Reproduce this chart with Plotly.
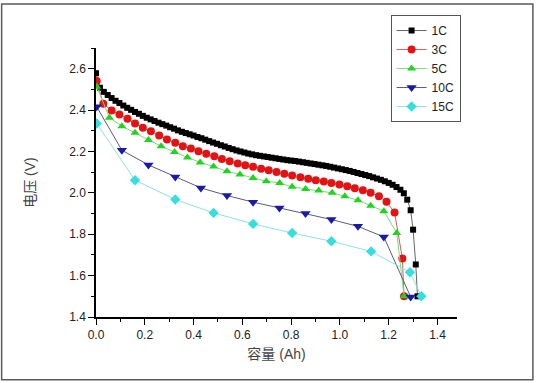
import plotly.graph_objects as go

# ---- data ----
x_1c = [0.000, 0.016, 0.032, 0.048, 0.064, 0.080, 0.096, 0.112, 0.128, 0.144,
        0.160, 0.176, 0.192, 0.208, 0.224, 0.240, 0.256, 0.272, 0.288, 0.304,
        0.320, 0.336, 0.352, 0.368, 0.384, 0.400, 0.416, 0.432, 0.448, 0.464,
        0.480, 0.496, 0.512, 0.528, 0.544, 0.560, 0.576, 0.592, 0.608, 0.624,
        0.640, 0.656, 0.672, 0.688, 0.704, 0.720, 0.736, 0.752, 0.768, 0.784,
        0.800, 0.816, 0.832, 0.848, 0.864, 0.880, 0.896, 0.912, 0.928, 0.944,
        0.960, 0.976, 0.992, 1.008, 1.024, 1.040, 1.056, 1.072, 1.088, 1.104,
        1.120, 1.136, 1.152, 1.168, 1.184, 1.200, 1.216, 1.232, 1.248, 1.262,
        1.276, 1.290, 1.300, 1.311, 1.318]
v_1c = [2.578, 2.508, 2.488, 2.473, 2.458, 2.445, 2.434, 2.422, 2.411, 2.401,
        2.391, 2.382, 2.372, 2.363, 2.355, 2.347, 2.339, 2.332, 2.325, 2.317,
        2.310, 2.302, 2.295, 2.289, 2.283, 2.277, 2.270, 2.264, 2.257, 2.250,
        2.243, 2.237, 2.230, 2.224, 2.217, 2.211, 2.205, 2.200, 2.195, 2.190,
        2.186, 2.182, 2.179, 2.176, 2.173, 2.170, 2.167, 2.164, 2.161, 2.158,
        2.156, 2.154, 2.151, 2.148, 2.145, 2.142, 2.139, 2.136, 2.133, 2.130,
        2.126, 2.122, 2.118, 2.114, 2.110, 2.106, 2.101, 2.096, 2.091, 2.086,
        2.081, 2.075, 2.069, 2.063, 2.056, 2.048, 2.039, 2.028, 2.015, 1.998,
        1.967, 1.916, 1.822, 1.654, 1.500]

x_3c = [0.003, 0.030, 0.064, 0.096, 0.129, 0.160, 0.192, 0.225, 0.259, 0.291,
        0.325, 0.356, 0.389, 0.420, 0.452, 0.485, 0.516, 0.548, 0.581, 0.612,
        0.644, 0.677, 0.708, 0.740, 0.772, 0.804, 0.838, 0.870, 0.901, 0.934,
        0.965, 0.998, 1.030, 1.061, 1.094, 1.126, 1.160, 1.191, 1.224, 1.256,
        1.263]
v_3c = [2.540, 2.430, 2.398, 2.379, 2.358, 2.335, 2.314, 2.298, 2.277, 2.258,
        2.242, 2.225, 2.214, 2.201, 2.189, 2.177, 2.164, 2.153, 2.142, 2.133,
        2.126, 2.116, 2.109, 2.101, 2.092, 2.084, 2.075, 2.068, 2.061, 2.055,
        2.048, 2.040, 2.032, 2.022, 2.012, 2.000, 1.983, 1.957, 1.905, 1.683,
        1.500]

x_5c = [0.003, 0.055, 0.106, 0.160, 0.215, 0.267, 0.322, 0.375, 0.427, 0.482,
        0.537, 0.590, 0.644, 0.698, 0.753, 0.804, 0.859, 0.913, 0.968, 1.020,
        1.074, 1.126, 1.180, 1.233, 1.263]
v_5c = [2.513, 2.363, 2.322, 2.290, 2.255, 2.225, 2.197, 2.171, 2.147, 2.127,
        2.104, 2.089, 2.072, 2.056, 2.048, 2.029, 2.019, 2.011, 2.000, 1.983,
        1.964, 1.938, 1.911, 1.806, 1.500]

x_10c = [0.003, 0.106, 0.215, 0.325, 0.430, 0.537, 0.644, 0.752, 0.859, 0.965,
         1.074, 1.180, 1.290]
v_10c = [2.416, 2.206, 2.135, 2.077, 2.024, 1.987, 1.955, 1.927, 1.900, 1.871,
         1.838, 1.787, 1.497]

x_15c = [0.003, 0.160, 0.325, 0.482, 0.644, 0.804, 0.965, 1.128, 1.287, 1.334]
v_15c = [2.335, 2.061, 1.968, 1.903, 1.850, 1.806, 1.766, 1.717, 1.616, 1.500]

names = ["1C", "3C", "5C", "10C", "15C"]
xs = [x_1c, x_3c, x_5c, x_10c, x_15c]
vs = [v_1c, v_3c, v_5c, v_10c, v_15c]
marker_colors = ["#000000", "#e41313", "#22d322", "#1a1aa6", "#38dede"]
line_colors = ["#666666", "#c86464", "#7ddc7d", "#5a5a80", "#8ee2e2"]
symbols = ["square", "circle", "triangle-up", "triangle-down", "diamond"]
sizes = [6, 8, 8, 9, 8]

fig = go.Figure()
for n, x, v, mc, lc, s, sz in zip(names, xs, vs, marker_colors, line_colors, symbols, sizes):
    fig.add_trace(go.Scatter(
        x=x, y=v, name=n, mode="lines+markers",
        line=dict(color=lc, width=1),
        marker=dict(color=mc, symbol=s, size=sz, line=dict(width=0)),
    ))

W, H = 539, 383
L, R, T, B = 96, 81.5, 48, 65.7
pw = W - L - R
ph = H - T - B

def px(xp):
    return (xp - L) / pw

def py(yp):
    return (H - B - yp) / ph

fig.add_shape(type="rect", xref="paper", yref="paper",
              x0=px(1.5), x1=px(533.5), y0=py(380), y1=py(4),
              line=dict(color="#5a5a5a", width=1.5), fillcolor="rgba(0,0,0,0)",
              layer="below")

tickfont = dict(family="Liberation Sans, Arial, sans-serif", size=12, color="#222222")
titlefont = dict(family="Liberation Sans, Noto Sans CJK SC, sans-serif", size=14, color="#444444")

fig.update_layout(
    width=W, height=H,
    margin=dict(l=L, r=R, t=T, b=B, autoexpand=False),
    paper_bgcolor="white", plot_bgcolor="white",
    showlegend=True,
    legend=dict(
        x=px(391), y=py(15), xanchor="left", yanchor="top",
        bgcolor="white", bordercolor="#555555", borderwidth=1,
        font=dict(family="Liberation Sans, Arial, sans-serif", size=12, color="#222222"),
        itemwidth=30, tracegroupgap=0,
    ),
    xaxis=dict(
        range=[0, 1.48], showgrid=False, zeroline=False, automargin=False,
        showline=True, linecolor="black", linewidth=1.5,
        ticks="outside", ticklen=6, tickwidth=1.2, tickcolor="black",
        dtick=0.2, tick0=0, tickformat=".1f", tickfont=tickfont,
        minor=dict(ticks="outside", ticklen=3, dtick=0.1, tick0=0, tickcolor="black", tickwidth=1),
        title=dict(text="容量 (Ah)", font=titlefont, standoff=8),
    ),
    yaxis=dict(
        range=[1.4, 2.7], showgrid=False, zeroline=False, automargin=False,
        showline=True, linecolor="black", linewidth=1.5,
        ticks="outside", ticklen=6, tickwidth=1.2, tickcolor="black",
        dtick=0.2, tick0=1.4, tickformat=".1f", tickfont=tickfont,
        minor=dict(ticks="outside", ticklen=3, dtick=0.1, tick0=1.4, tickcolor="black", tickwidth=1),
        title=dict(text="电压 (V)", font=titlefont, standoff=30),
    ),
)

fig.write_html("out.html",
               config={"displayModeBar": False},
               post_script="document.body.style.margin='0';document.body.style.overflow='hidden';")
